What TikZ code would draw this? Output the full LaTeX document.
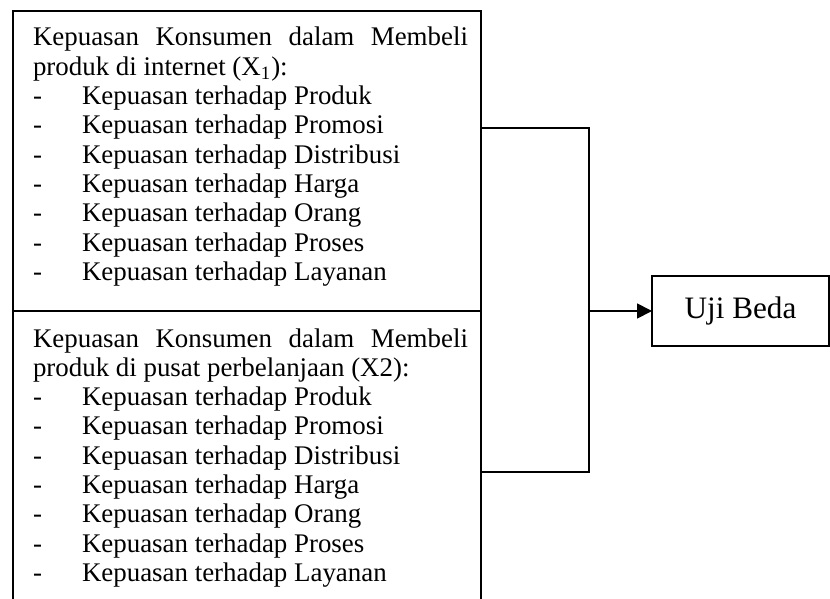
\documentclass[tikz,border=0pt]{standalone}
\usepackage{fontspec}
\setmainfont{Liberation Serif}
\usetikzlibrary{arrows.meta}
\begin{document}
\begin{tikzpicture}[x=0.5pt,y=-0.5pt,
  frame/.style={draw,line width=0.9pt,inner sep=0pt,outer sep=0pt,anchor=north west},
  txt/.style={anchor=base west,inner sep=0pt,outer sep=0pt,font=\fontsize{13.45}{15}\selectfont},
  conn/.style={line width=0.9pt},
  ]
\useasboundingbox (0,0) rectangle (830,599);
\clip (0,0) rectangle (830,599);
% left boxes
\node[frame,minimum width=234pt,minimum height=150pt] (box1) at (13,11) {};
\node[frame,minimum width=234pt,minimum height=150pt] (box2) at (13,311) {};
% right box
\node[frame,minimum width=88.5pt,minimum height=35pt,font=\fontsize{15.6}{18}\selectfont] (uji) at (652,276) {Uji Beda};
% texts of box 1
\node[txt] (h1a) at (33,46) {\hbox to 217.5pt{Kepuasan\hfill Konsumen\hfill dalam\hfill Membeli}};
\node[txt] (h1b) at (33,75.3) {produk di internet (X\textsubscript{1}):};
\foreach \t [count=\i] in {Produk,Promosi,Distribusi,Harga,Orang,Proses,Layanan}{
  \pgfmathsetmacro{\yy}{46+29.3*(\i+1)}
  \node[txt] (d1\i) at (33,\yy) {-};
  \node[txt] (a1\i) at (82,\yy) {Kepuasan terhadap \t};
}
% texts of box 2
\node[txt] (h2a) at (33,347) {\hbox to 217.5pt{Kepuasan\hfill Konsumen\hfill dalam\hfill Membeli}};
\node[txt] (h2b) at (33,376.3) {produk di pusat perbelanjaan (X2):};
\foreach \t [count=\i] in {Produk,Promosi,Distribusi,Harga,Orang,Proses,Layanan}{
  \pgfmathsetmacro{\yy}{347+29.3*(\i+1)}
  \node[txt] (d2\i) at (33,\yy) {-};
  \node[txt] (a2\i) at (82,\yy) {Kepuasan terhadap \t};
}
% connectors
\coordinate (j1) at (589,128);
\coordinate (j2) at (589,472);
\coordinate (jm) at (j1 |- uji.west);
\draw[conn] (box1.east |- j1) -- (j1) -- (j2) -- (box2.east |- j2);
\draw[conn,-{Triangle[length=7.5pt,width=7.5pt]}] (jm) -- (uji.west);
\end{tikzpicture}
\end{document}
